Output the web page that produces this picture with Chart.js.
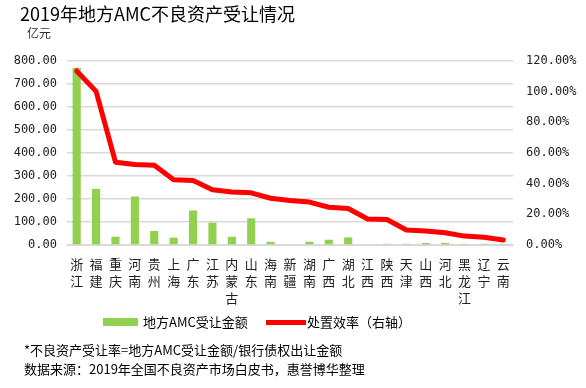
<!DOCTYPE html>
<html>
<head>
<meta charset="utf-8">
<script src="https://cdn.jsdelivr.net/npm/chart.js@4/dist/chart.umd.min.js"></script>
<style>
  html,body{margin:0;padding:0;background:#fff;width:586px;height:388px;overflow:hidden;}
  #wrap{position:relative;width:586px;height:388px;font-family:"Noto Sans CJK SC","Noto Sans",sans-serif;color:#000;}
  canvas{position:absolute;left:0;top:0;}
  .t{position:absolute;white-space:nowrap;line-height:1;}
</style>
</head>
<body>
<div id="wrap">
  <canvas id="c" width="586" height="388"></canvas>
  <div class="t" style="left:20px;top:4px;font-size:18px;">2019年地方AMC不良资产受让情况</div>
  <div class="t" style="left:27px;top:27px;font-size:12px;color:#333;">亿元</div>
  <div class="t" style="left:103px;top:318px;width:35px;height:8px;background:#92D050;"></div>
  <div class="t" style="left:143px;top:315px;font-size:13px;">地方AMC受让金额</div>
  <div class="t" style="left:266px;top:320px;width:40px;height:5px;background:#FF0000;"></div>
  <div class="t" style="left:307px;top:315px;font-size:13px;">处置效率（右轴）</div>
  <div class="t" style="left:24px;top:343px;font-size:13px;">*不良资产受让率=地方AMC受让金额/银行债权出让金额</div>
  <div class="t" style="left:24px;top:362px;font-size:13px;">数据来源：2019年全国不良资产市场白皮书，惠誉博华整理</div>
</div>
<script>
const categories = [
  ['浙','江'],['福','建'],['重','庆'],['河','南'],['贵','州'],['上','海'],['广','东'],['江','苏'],
  ['内','蒙','古'],['山','东'],['海','南'],['新','疆'],['湖','南'],['广','西'],['湖','北'],['江','西'],
  ['陕','西'],['天','津'],['山','西'],['河','北'],['黑','龙','江'],['辽','宁'],['云','南']
];
const amounts = [771,244,36,211,61,32,150,97,36,116,14,0,14,23,33,0,5,5,9,9,5,5,5];
const efficiency = [113.5,100.2,54,52.5,52,42.5,42,36,34.5,34,30.5,29,28,24.6,23.8,17,16.6,9.8,9.2,8,5.8,5,3.3];
const leftTicks = [0,100,200,300,400,500,600,700,800];
const rightTicks = [0,20,40,60,80,100,120];

new Chart(document.getElementById('c'), {
  data: {
    labels: categories,
    datasets: [
      {
        type: 'line',
        label: '处置效率（右轴）',
        data: efficiency,
        yAxisID: 'y1',
        borderColor: '#FF0000',
        backgroundColor: '#FF0000',
        borderWidth: 5,
        tension: 0,
        pointRadius: 0,
        borderJoinStyle: 'round',
        borderCapStyle: 'round',
        order: 0
      },
      {
        type: 'bar',
        label: '地方AMC受让金额',
        data: amounts,
        yAxisID: 'y',
        backgroundColor: '#92D050',
        barPercentage: 0.42,
        categoryPercentage: 1,
        order: 1
      }
    ]
  },
  options: {
    responsive: false,
    animation: false,
    devicePixelRatio: 1,
    layout: { padding: { top: 61, left: 0, right: 0, bottom: 0 } },
    plugins: { legend: { display: false }, tooltip: { enabled: false } },
    scales: {
      x: {
        offset: true,
        grid: { display: false },
        border: { display: true, color: '#D9D9D9' },
        ticks: {
          autoSkip: false, maxRotation: 0, minRotation: 0, padding: 3,
          color: '#222',
          font: { family: '"Noto Sans CJK SC"', size: 13, lineHeight: 1.3 }
        },
        afterFit: (s) => { s.height = 143; }
      },
      y: {
        position: 'left',
        min: 0, max: 800,
        afterBuildTicks: (s) => { s.ticks = leftTicks.map(v => ({ value: v })); },
        grid: { color: '#D9D9D9', lineWidth: 1.5, drawTicks: false },
        border: { display: false },
        ticks: {
          padding: 10, color: '#222',
          font: { family: '"DejaVu Sans Mono"', size: 12 },
          callback: (v) => Number(v).toFixed(2)
        },
        afterFit: (s) => { s.width = 67; }
      },
      y1: {
        position: 'right',
        min: 0, max: 120,
        afterBuildTicks: (s) => { s.ticks = rightTicks.map(v => ({ value: v })); },
        grid: { display: false, drawTicks: false },
        border: { display: false },
        ticks: {
          padding: 13, color: '#222',
          font: { family: '"DejaVu Sans Mono"', size: 12 },
          callback: (v) => Number(v).toFixed(2) + '%'
        },
        afterFit: (s) => { s.width = 73; }
      }
    }
  }
});
</script>
</body>
</html>
